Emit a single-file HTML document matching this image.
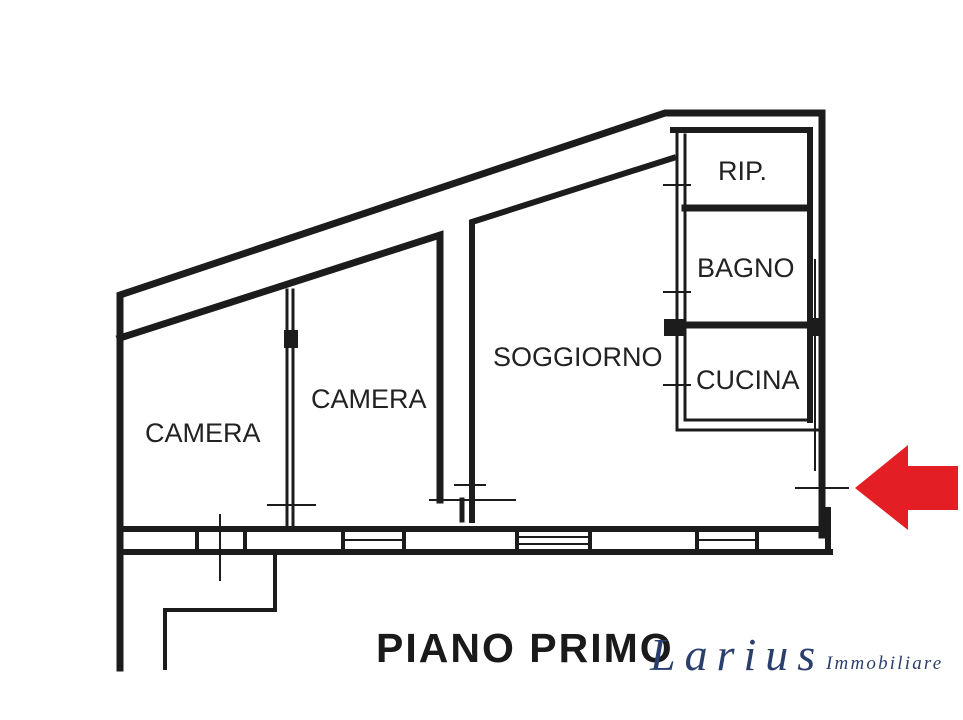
<!DOCTYPE html>
<html><head><meta charset="utf-8"><style>
html,body{margin:0;padding:0;background:#fff;width:963px;height:720px;overflow:hidden}
svg{display:block}
.t{font-family:"Liberation Sans",sans-serif;fill:#222}
</style></head><body>
<svg width="963" height="720" viewBox="0 0 963 720" xmlns="http://www.w3.org/2000/svg">
<g stroke="#1c1c1c" fill="none" stroke-linecap="square">
<polyline points="120,668 120,295 665,113 822,113 822,535" stroke-width="7"/>
<polyline points="120,338 440,235 440,500" stroke-width="7"/>
<polyline points="472,520 472,222 673,158" stroke-width="6"/>
<line x1="462" y1="500" x2="462" y2="520" stroke-width="5"/>
<line x1="120" y1="529" x2="828" y2="529" stroke-width="6"/>
<line x1="120" y1="552" x2="830" y2="552" stroke-width="6"/>
<line x1="828" y1="510" x2="828" y2="552" stroke-width="6"/>
<g stroke-width="4">
<line x1="197" y1="529" x2="197" y2="552"/><line x1="245" y1="529" x2="245" y2="552"/>
<line x1="343" y1="529" x2="343" y2="552"/><line x1="404" y1="529" x2="404" y2="552"/>
<line x1="517" y1="529" x2="517" y2="552"/><line x1="590" y1="529" x2="590" y2="552"/>
<line x1="697" y1="529" x2="697" y2="552"/><line x1="757" y1="529" x2="757" y2="552"/>
</g>
<g stroke-width="2">
<line x1="345" y1="540" x2="402" y2="540"/><line x1="519" y1="537" x2="588" y2="537"/><line x1="519" y1="544" x2="588" y2="544"/>
<line x1="699" y1="540" x2="755" y2="540"/>
<line x1="220" y1="515" x2="220" y2="580"/>
<line x1="268" y1="505" x2="315" y2="505"/><line x1="430" y1="500" x2="515" y2="500"/>
<line x1="455" y1="485" x2="485" y2="485"/>
<line x1="796" y1="488" x2="848" y2="488"/>
</g>
<polyline points="275,552 275,610 165,610 165,668" stroke-width="4"/>
<line x1="287" y1="290" x2="287" y2="525" stroke-width="3"/>
<line x1="293" y1="290" x2="293" y2="525" stroke-width="3"/>
<rect x="284" y="330" width="14" height="18" fill="#1c1c1c" stroke="none"/>
<polyline points="673,130 810,130 810,420" stroke-width="6"/>
<polyline points="677,130 677,430 820,430" stroke-width="3"/>
<line x1="685" y1="135" x2="685" y2="420" stroke-width="3"/>
<line x1="685" y1="420" x2="810" y2="420" stroke-width="3"/>
<line x1="685" y1="208" x2="806" y2="208" stroke-width="7"/>
<line x1="668" y1="325" x2="820" y2="325" stroke-width="7"/>
<rect x="664" y="319" width="20" height="17" fill="#1c1c1c" stroke="none"/>
<rect x="812" y="318" width="13" height="18" fill="#1c1c1c" stroke="none"/>
<g stroke-width="2">
<line x1="664" y1="185" x2="690" y2="185"/><line x1="664" y1="292" x2="690" y2="292"/><line x1="664" y1="385" x2="690" y2="385"/>
<line x1="815" y1="260" x2="815" y2="470"/>
</g>
</g>
<text class="t" x="145" y="442" font-size="27">CAMERA</text>
<text class="t" x="311" y="408" font-size="27">CAMERA</text>
<text class="t" x="493" y="366" font-size="27">SOGGIORNO</text>
<text class="t" x="718" y="180" font-size="27">RIP.</text>
<text class="t" x="697" y="277" font-size="27">BAGNO</text>
<text class="t" x="696" y="389" font-size="27">CUCINA</text>
<polygon points="855,488 908,445 908,466 958,466 958,510 908,510 908,530" fill="#e31e24"/>
<text x="376" y="662" font-family="Liberation Sans,sans-serif" font-weight="bold" font-size="41" fill="#1a1a1a" letter-spacing="2">PIANO PRIMO</text>
<text x="650" y="670" font-family="Liberation Serif,serif" font-style="italic" font-size="46" fill="#2b3f6e" letter-spacing="9">Larius</text>
<text x="826" y="669" font-family="Liberation Serif,serif" font-style="italic" font-size="19" fill="#2b3f6e" letter-spacing="2.2">Immobiliare</text>
</svg>
</body></html>
